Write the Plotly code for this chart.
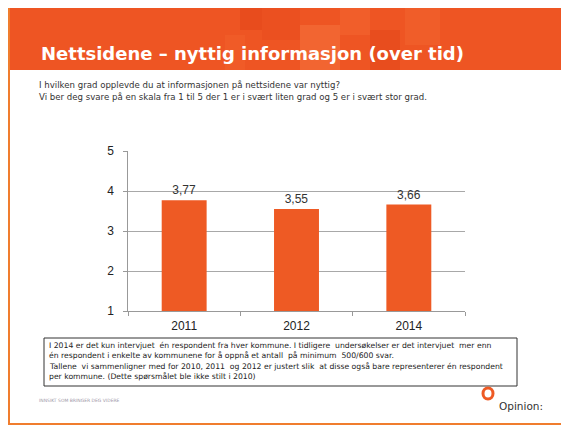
import plotly.graph_objects as go

years = ["2011", "2012", "2014"]
values = [3.77, 3.55, 3.66]
value_labels = ["3,77", "3,55", "3,66"]
y_ticks = [1, 2, 3, 4, 5]

title_text = "Nettsidene – nyttig informasjon (over tid)"
question_lines = [
    "I hvilken grad opplevde du at informasjonen på nettsidene var nyttig?",
    "Vi ber deg svare på en skala fra 1 til 5 der 1 er i svært liten grad og 5 er i svært stor grad.",
]
note_lines = [
    "I 2014 er det kun intervjuet  én respondent fra hver kommune. I tidligere  undersøkelser er det intervjuet  mer enn",
    "én respondent i enkelte av kommunene for å oppnå et antall  på minimum  500/600 svar.",
    "Tallene  vi sammenligner med for 2010, 2011  og 2012 er justert slik  at disse også bare representerer én respondent",
    "per kommune. (Dette spørsmålet ble ikke stilt i 2010)",
]
tagline = "INNSIKT SOM BRINGER DEG VIDERE"
logo_text = "Opinion:"

# page geometry (browser adds an 8px body margin)
OFF = 8
PAGE_W, PAGE_H = 569, 426
L, R, T, B = 128, 465, 151, 311


def px(x):
    return (x - L) / (R - L)


def py(y):
    return (B - y) / (B - T)


fig = go.Figure(
    go.Bar(
        x=years,
        y=values,
        base=0,
        marker=dict(color="#EE5A24", line=dict(width=0)),
        text=value_labels,
        textposition="outside",
        textfont=dict(family="Liberation Sans, Arial", size=12, color="#333333"),
        cliponaxis=False,
        width=0.4,
    )
)

shapes = []
shapes.append(dict(type="rect", xref="paper", yref="paper", x0=px(9), x1=px(566), y0=py(0), y1=py(2),
                   fillcolor="#F07D2E", line=dict(width=0), layer="below"))
shapes.append(dict(type="rect", xref="paper", yref="paper", x0=px(9), x1=px(565), y0=py(424), y1=py(6),
                   fillcolor="white", line=dict(color="#F07D2E", width=2), layer="below"))
shapes.append(dict(type="rect", xref="paper", yref="paper", x0=px(10), x1=px(564), y0=py(70), y1=py(7),
                   fillcolor="#EE5523", line=dict(width=0), layer="below"))
blocks = [
    (240, 262, 7, 30, "rgba(220,60,20,0.35)"),
    (262, 300, 7, 40, "rgba(230,70,25,0.30)"),
    (300, 340, 25, 70, "rgba(255,150,90,0.25)"),
    (340, 370, 7, 35, "rgba(255,140,80,0.18)"),
    (370, 400, 30, 70, "rgba(220,60,20,0.30)"),
    (405, 440, 7, 45, "rgba(255,140,80,0.15)"),
    (225, 245, 35, 70, "rgba(255,130,70,0.15)"),
]
for x0, x1, y0, y1, c in blocks:
    shapes.append(dict(type="rect", xref="paper", yref="paper", x0=px(x0), x1=px(x1), y0=py(y1), y1=py(y0),
                       fillcolor=c, line=dict(width=0), layer="below"))
shapes.append(dict(type="rect", xref="paper", yref="paper", x0=px(44), x1=px(517), y0=py(386), y1=py(338),
                   fillcolor="white", line=dict(color="#333333", width=1)))
shapes.append(dict(type="circle", xref="paper", yref="paper", x0=px(483), x1=px(493), y0=py(399), y1=py(388),
                   fillcolor="rgba(0,0,0,0)", line=dict(color="#EE5A24", width=3)))
fig.update_layout(shapes=shapes)

ann = []
ann.append(dict(text="<b>" + title_text + "</b>", x=px(39), y=py(53), xref="paper", yref="paper",
                xanchor="left", yanchor="middle", showarrow=False,
                font=dict(family="DejaVu Sans", size=18, color="white")))
for i, line in enumerate(question_lines):
    ann.append(dict(text=line, x=px(37), y=py(85 + i * 11.5), xref="paper", yref="paper",
                    xanchor="left", yanchor="middle", showarrow=False,
                    font=dict(family="DejaVu Sans", size=8.6, color="#333333")))
note_y = [345, 355, 366, 376]
for line, yy in zip(note_lines, note_y):
    ann.append(dict(text=line, x=px(47), y=py(yy), xref="paper", yref="paper",
                    xanchor="left", yanchor="middle", showarrow=False,
                    font=dict(family="DejaVu Sans", size=7.7, color="#222222")))
ann.append(dict(text=tagline, x=px(37), y=py(400), xref="paper", yref="paper",
                xanchor="left", yanchor="middle", showarrow=False,
                font=dict(family="DejaVu Sans", size=4.5, color="#A098A8")))
ann.append(dict(text=logo_text, x=px(497), y=py(406), xref="paper", yref="paper",
                xanchor="left", yanchor="middle", showarrow=False,
                font=dict(family="DejaVu Sans", size=10.5, color="#333333")))
fig.update_layout(annotations=ann)

pad_span = "<span style='color:rgba(0,0,0,0)'>0</span>"
fig.update_layout(
    width=PAGE_W - OFF, height=PAGE_H - OFF,
    margin=dict(l=L - OFF, r=PAGE_W - R, t=T - OFF, b=PAGE_H - B, pad=0),
    paper_bgcolor="white",
    plot_bgcolor="rgba(0,0,0,0)",
    showlegend=False,
    bargap=0.6,
    xaxis=dict(
        type="category",
        showline=True, linecolor="#999999", linewidth=1,
        ticks="outside", tickson="boundaries", ticklen=4, tickcolor="#999999",
        tickfont=dict(family="Liberation Sans, Arial", size=12, color="#222222"),
        ticklabelstandoff=4,
        showgrid=False,
    ),
    yaxis=dict(
        range=[1, 5], tickvals=y_ticks,
        ticktext=[f"{v}{pad_span}" for v in y_ticks],
        showline=True, linecolor="#999999", linewidth=1,
        ticks="outside", ticklen=4, tickcolor="#999999",
        gridcolor="#A8A8A8", gridwidth=1,
        zeroline=False,
        tickfont=dict(family="Liberation Sans, Arial", size=12, color="#222222"),
    ),
)

fig.write_html("out.html")
